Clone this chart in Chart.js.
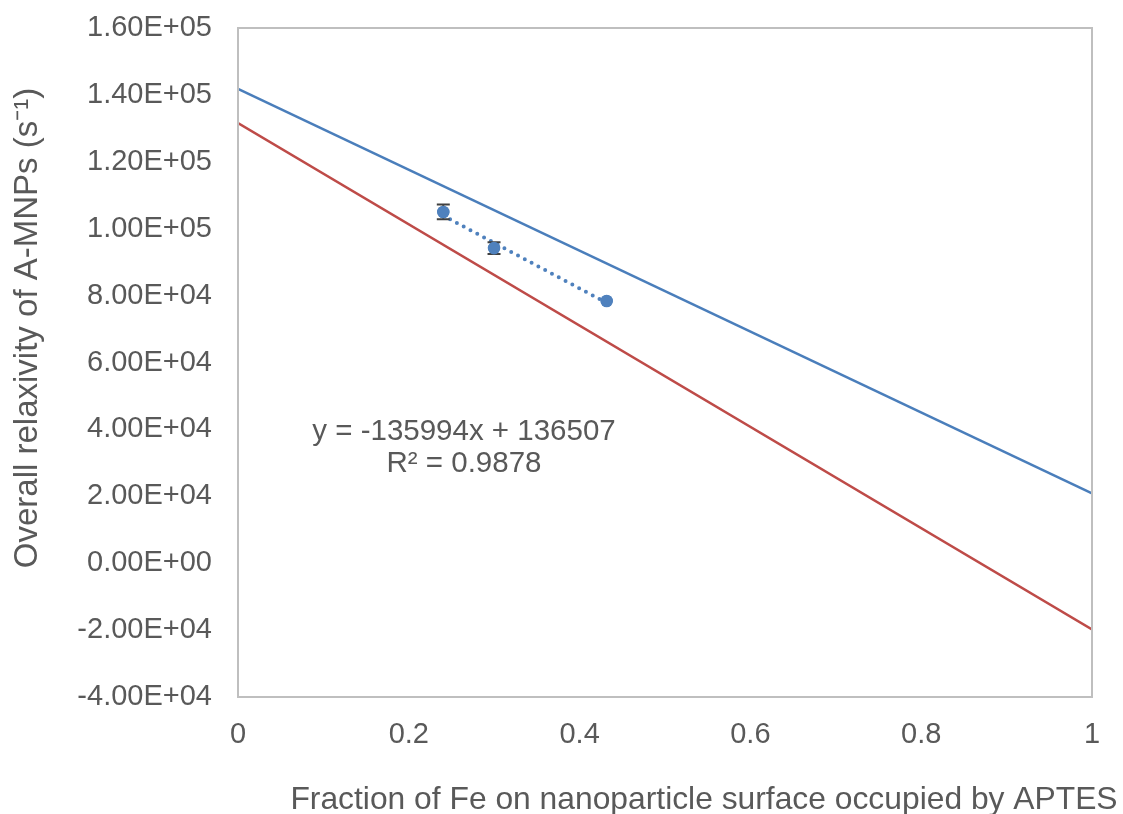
<!DOCTYPE html>
<html>
<head>
<meta charset="utf-8">
<script src="https://cdn.jsdelivr.net/npm/chart.js@4/dist/chart.umd.min.js"></script>
<style>
html,body{margin:0;padding:0;background:#fff;}
#wrap{width:1123px;height:814px;position:relative;}
</style>
</head>
<body>
<div id="wrap"><canvas id="c" width="1123" height="814"></canvas></div>
<script>
// ---- data ----
const fractionAPTES = [0.2404, 0.2998, 0.4317];
const relaxivity = [105000, 94200, 78400];
const relaxivityErr = [2200, 1750, 0];
const upperLineX = [0, 1];
const upperLineY = [141800, 20900];
const lowerLineX = [0, 1];
const lowerLineY = [131600, -19800];
const trendX = [0.2404, 0.4317];
const trendY = [103900, 77800];
const yTickValues = [160000, 140000, 120000, 100000, 80000, 60000, 40000, 20000, 0, -20000, -40000];
const xTickValues = [0, 0.2, 0.4, 0.6, 0.8, 1];
const xTitle = 'Fraction of Fe on nanoparticle surface occupied by APTES';
const yTitle = 'Overall relaxivity of A-MNPs (s⁻¹)';
const eqLines = ['y = -135994x + 136507', 'R² = 0.9878'];

const FONT = '"Liberation Sans", Arial, sans-serif';
const TXT = '#595959';
const BLUE = '#4A7EBB';
const RED = '#BE4B48';
const PT = '#4F81BD';

const toXY = (xs, ys) => xs.map((x, i) => ({x: x, y: ys[i]}));

function fmtE(v) {
  if (v === 0) return '0.00E+00';
  const s = v.toExponential(2).toUpperCase();
  return s.replace(/E([+-])(\d)$/, 'E$10$2');
}

const overlay = {
  id: 'overlay',
  afterDatasetsDraw(chart) {
    const {ctx, scales} = chart;
    const xs = scales.x, ys = scales.y;
    ctx.save();
    ctx.strokeStyle = '#404040';
    ctx.lineWidth = 2;
    fractionAPTES.forEach((x, i) => {
      const e = relaxivityErr[i];
      if (!e) return;
      const px = xs.getPixelForValue(x);
      const top = ys.getPixelForValue(relaxivity[i] + e);
      const bot = ys.getPixelForValue(relaxivity[i] - e);
      ctx.beginPath();
      ctx.moveTo(px, top); ctx.lineTo(px, bot);
      ctx.moveTo(px - 6.5, top); ctx.lineTo(px + 6.5, top);
      ctx.moveTo(px - 6.5, bot); ctx.lineTo(px + 6.5, bot);
      ctx.stroke();
    });
    ctx.restore();
    const meta = chart.getDatasetMeta(3);
    ctx.save();
    ctx.fillStyle = PT;
    meta.data.forEach(p => {
      ctx.beginPath();
      ctx.arc(p.x, p.y, 6.3, 0, Math.PI * 2);
      ctx.fill();
    });
    ctx.restore();
  },
  afterDraw(chart) {
    const {ctx, chartArea: a} = chart;
    ctx.save();
    ctx.strokeStyle = '#BFBFBF';
    ctx.lineWidth = 2;
    ctx.strokeRect(a.left, a.top, a.right - a.left, a.bottom - a.top);
    ctx.fillStyle = TXT;
    ctx.textAlign = 'center';
    ctx.textBaseline = 'middle';
    ctx.font = '29.5px ' + FONT;
    ctx.fillText(eqLines[0], 464, 432);
    ctx.fillText(eqLines[1], 464, 464);
    ctx.font = '31.8px ' + FONT;
    ctx.fillText(xTitle, 704, 800);
    ctx.translate(28, 328);
    ctx.rotate(-Math.PI / 2);
    ctx.font = '33px ' + FONT;
    ctx.fillText(yTitle, 0, 0);
    ctx.restore();
  }
};

new Chart(document.getElementById('c'), {
  type: 'scatter',
  data: {
    datasets: [
      {
        label: 'upper',
        data: toXY(upperLineX, upperLineY),
        showLine: true, borderColor: BLUE, borderWidth: 2.5,
        pointRadius: 0, fill: false
      },
      {
        label: 'lower',
        data: toXY(lowerLineX, lowerLineY),
        showLine: true, borderColor: RED, borderWidth: 2.5,
        pointRadius: 0, fill: false
      },
      {
        label: 'trend',
        data: toXY(trendX, trendY),
        showLine: true, borderColor: PT, borderWidth: 4,
        borderDash: [0, 7.7], borderCapStyle: 'round',
        pointRadius: 0, fill: false
      },
      {
        label: 'data',
        data: toXY(fractionAPTES, relaxivity),
        showLine: false, backgroundColor: PT, borderColor: PT,
        pointRadius: 6, borderWidth: 0, pointHoverRadius: 6
      }
    ]
  },
  options: {
    responsive: false,
    animation: false,
    events: [],
    layout: {padding: {left: 0, top: 28, right: 31, bottom: 0}},
    plugins: {legend: {display: false}, tooltip: {enabled: false}},
    scales: {
      x: {
        type: 'linear', min: 0, max: 1,
        afterBuildTicks(s) { s.ticks = xTickValues.map(v => ({value: v})); },
        afterFit(s) { s.height = 117; s.paddingLeft = 0; s.paddingRight = 0; },
        grid: {display: false, drawTicks: false},
        border: {display: false},
        ticks: {
          color: TXT, font: {family: FONT, size: 29}, padding: 21,
          callback: v => String(v)
        }
      },
      y: {
        type: 'linear', min: -40000, max: 160000,
        afterBuildTicks(s) { s.ticks = yTickValues.map(v => ({value: v})); },
        afterFit(s) { s.width = 238; s.paddingTop = 0; s.paddingBottom = 0; },
        grid: {display: false, drawTicks: false},
        border: {display: false},
        ticks: {
          color: TXT, font: {family: FONT, size: 29}, padding: 26,
          callback: v => fmtE(v)
        }
      }
    }
  },
  plugins: [overlay]
});
</script>
</body>
</html>
